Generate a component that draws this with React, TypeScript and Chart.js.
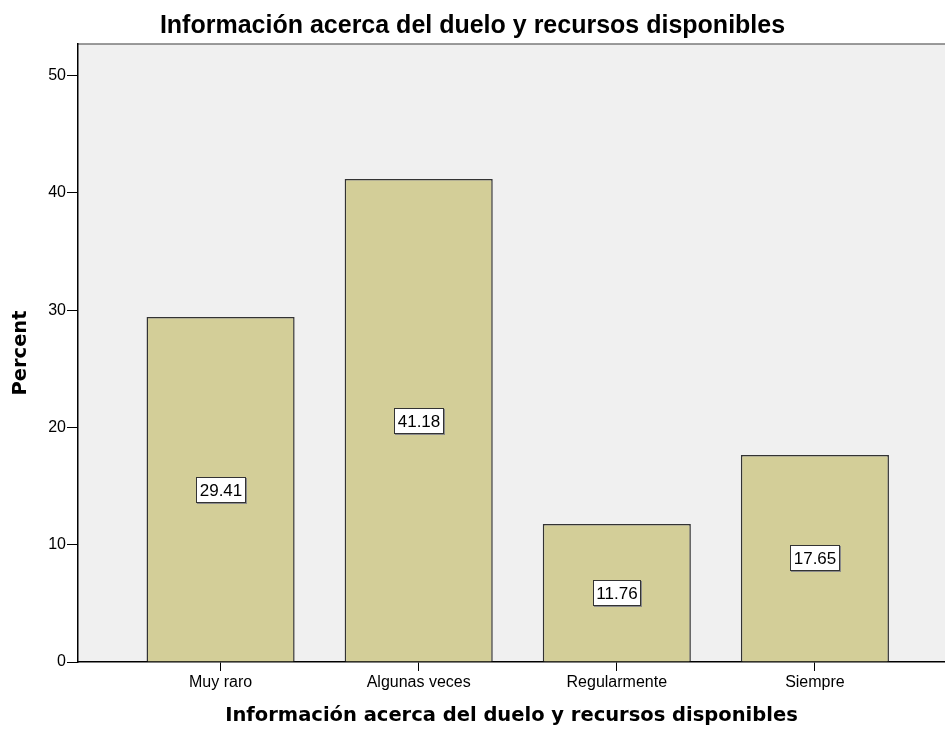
import React, { useEffect, useRef } from "react";
import { Chart, registerables } from "chart.js";

Chart.register(...registerables);

const categories = ["Muy raro", "Algunas veces", "Regularmente", "Siempre"];
const percents = [29.41, 41.18, 11.76, 17.65];
const valueLabels = ["29.41", "41.18", "11.76", "17.65"];
const yTicks = [0, 10, 20, 30, 40, 50];
const chartTitle = "Información acerca del duelo y recursos disponibles";
const xTitle = "Información acerca del duelo y recursos disponibles";
const yTitle = "Percent";

const plotBg = {
  id: "plotBg",
  beforeDraw(chart: any) {
    const { ctx, chartArea: a } = chart;
    ctx.save();
    ctx.fillStyle = "#ffffff";
    ctx.fillRect(0, 0, chart.width, chart.height);
    ctx.fillStyle = "#f0f0f0";
    ctx.fillRect(a.left, a.top, a.right - a.left, a.bottom - a.top);
    ctx.strokeStyle = "#7a7a7a";
    ctx.lineWidth = 1.5;
    ctx.beginPath();
    ctx.moveTo(a.left, a.top);
    ctx.lineTo(a.right, a.top);
    ctx.stroke();
    ctx.restore();
  },
};

const valueBoxes = {
  id: "valueBoxes",
  afterDatasetsDraw(chart: any) {
    const { ctx } = chart;
    const meta = chart.getDatasetMeta(0);
    const ys = chart.scales.y;
    ctx.save();
    ctx.font = "17px 'Liberation Sans', Arial, sans-serif";
    ctx.textAlign = "center";
    ctx.textBaseline = "middle";
    meta.data.forEach((bar: any, i: number) => {
      const label = valueLabels[i];
      const cx = Math.round(bar.x);
      const cy = Math.round(ys.getPixelForValue(percents[i] / 2));
      const w = Math.round(ctx.measureText(label).width + 7);
      const h = 26;
      const x0 = cx - Math.round(w / 2);
      const y0 = cy - h / 2;
      ctx.fillStyle = "#8a8a8a";
      ctx.fillRect(x0 + 1, y0 + 1, w, h);
      ctx.fillStyle = "#ffffff";
      ctx.fillRect(x0, y0, w, h);
      ctx.strokeStyle = "#333333";
      ctx.lineWidth = 1;
      ctx.strokeRect(x0 + 0.5, y0 + 0.5, w - 1, h - 1);
      ctx.fillStyle = "#000000";
      ctx.fillText(label, cx, cy + 1);
    });
    ctx.restore();
  },
};

export default function App() {
  const ref = useRef<HTMLCanvasElement | null>(null);

  useEffect(() => {
    document.body.style.margin = "0";
    const canvas = ref.current;
    if (!canvas) return;
    const chart = new Chart(canvas, {
      type: "bar",
      data: {
        datasets: [
          {
            data: percents.map((v, i) => ({ x: i, y: v })),
            backgroundColor: "#d3ce98",
            borderColor: "#333333",
            borderWidth: 1.5,
            categoryPercentage: 1,
            barPercentage: 0.7475,
          },
        ],
      },
      options: {
        responsive: false,
        animation: false,
        layout: { padding: 0 },
        plugins: {
          legend: { display: false },
          tooltip: { enabled: false },
          title: {
            display: true,
            text: chartTitle,
            color: "#000",
            font: { family: "'Liberation Sans', Arial, sans-serif", size: 25, weight: "bold", lineHeight: 1.2 },
            padding: { top: 11, bottom: 3 },
          },
        },
        scales: {
          x: {
            type: "linear",
            offset: false,
            min: -0.7197,
            max: 3.6566,
            afterFit: (s: any) => {
              s.height = 68;
            },
            afterBuildTicks: (s: any) => {
              s.ticks = categories.map((_, i) => ({ value: i }));
            },
            ticks: {
              autoSkip: false,
              maxRotation: 0,
              padding: 2,
              color: "#000",
              font: { family: "'Liberation Sans', Arial, sans-serif", size: 16 },
              callback: (v: any) => categories[v] ?? "",
            },
            grid: { offset: false, drawOnChartArea: false, drawTicks: true, tickLength: 9, color: "#000" },
            border: { display: true, color: "#000", width: 1.5 },
            title: {
              display: true,
              text: xTitle,
              color: "#000",
              font: { family: "'DejaVu Sans', sans-serif", size: 19.5, weight: "bold", lineHeight: 1.2 },
              padding: { top: 0, bottom: 2 },
            },
          },
          y: {
            min: 0,
            max: 52.69,
            afterFit: (s: any) => {
              s.width = 78;
            },
            afterBuildTicks: (s: any) => {
              s.ticks = yTicks.map((v) => ({ value: v }));
            },
            ticks: {
              padding: 1,
              color: "#000",
              font: { family: "'Liberation Sans', Arial, sans-serif", size: 16 },
            },
            grid: { drawOnChartArea: false, drawTicks: true, tickLength: 11, color: "#000" },
            border: { display: true, color: "#000", width: 1.5 },
            title: {
              display: true,
              text: yTitle,
              color: "#000",
              font: { family: "'DejaVu Sans', sans-serif", size: 19.5, weight: "bold", lineHeight: 1.2 },
              padding: { top: 9, bottom: 0 },
            },
          },
        },
      },
      plugins: [plotBg, valueBoxes],
    } as any);
    return () => chart.destroy();
  }, []);

  return <canvas ref={ref} width={945} height={730} style={{ display: "block" }} />;
}
